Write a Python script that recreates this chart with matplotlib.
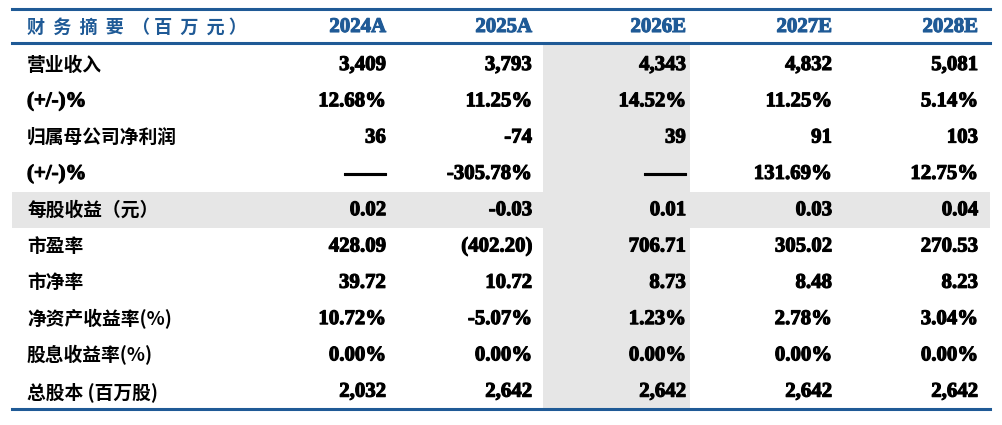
import matplotlib.pyplot as plt
import matplotlib.patheffects as pe
from matplotlib.patches import Rectangle

# table data
header_label = "财务摘要（百万元）"
years = ["2024A", "2025A", "2026E", "2027E", "2028E"]
row_labels = ["营业收入", "(+/-)%", "归属母公司净利润", "(+/-)%", "每股收益（元）",
              "市盈率", "市净率", "净资产收益率(%)", "股息收益率(%)", "总股本 (百万股)"]
values = [
    ["3,409", "3,793", "4,343", "4,832", "5,081"],
    ["12.68%", "11.25%", "14.52%", "11.25%", "5.14%"],
    ["36", "-74", "39", "91", "103"],
    ["——", "-305.78%", "——", "131.69%", "12.75%"],
    ["0.02", "-0.03", "0.01", "0.03", "0.04"],
    ["428.09", "(402.20)", "706.71", "305.02", "270.53"],
    ["39.72", "10.72", "8.73", "8.48", "8.23"],
    ["10.72%", "-5.07%", "1.23%", "2.78%", "3.04%"],
    ["0.00%", "0.00%", "0.00%", "0.00%", "0.00%"],
    ["2,032", "2,642", "2,642", "2,642", "2,642"],
]

W, H = 1003, 425
BLUE = "#1f5a96"
GREY = "#e6e6e6"
col_right = [386, 532, 686, 832, 978]
label_x = 27
header_y = 27
row_y0, row_h = 65, 36.3
shaded_row = 4

fig = plt.figure(figsize=(W / 100, H / 100), dpi=100)
ax = fig.add_axes([0, 0, 1, 1])
ax.set_xlim(0, W)
ax.set_ylim(H, 0)
ax.axis("off")

cjk = ["Noto Sans CJK SC", "DejaVu Sans"]
serif = ["Liberation Serif", "Noto Sans CJK SC"]


def bold(c):
    # thicken the serif glyphs a bit
    return [pe.withStroke(linewidth=0.8, foreground=c)]


# shading
ax.add_patch(Rectangle((543, 45), 147, 363, color=GREY, lw=0, zorder=0))
ys = row_y0 + shaded_row * row_h
ax.add_patch(Rectangle((12, ys - row_h / 2), 978, row_h, color=GREY, lw=0, zorder=0))

# rules
ax.plot([12, 990], [9, 9], color=BLUE, lw=2.2)
ax.plot([12, 990], [43, 43], color=BLUE, lw=2.2)
ax.plot([12, 990], [409, 409], color=BLUE, lw=2.2)

ax.text(label_x, header_y, "  ".join(header_label).replace("（ ", "（").replace(" ）", "）"),
        color=BLUE, fontsize=13, fontweight="bold", family=cjk, va="center", ha="left")
for x, yr in zip(col_right, years):
    ax.text(x, header_y, yr, color=BLUE, fontsize=15, fontweight="bold",
            family=serif, va="center", ha="right", path_effects=bold(BLUE))

for i, (lab, vals) in enumerate(zip(row_labels, values)):
    y = row_y0 + i * row_h
    if lab.startswith("("):
        ax.text(label_x, y, lab, fontsize=15, fontweight="bold", family=serif,
                va="center", ha="left", color="black", path_effects=bold("black"))
    else:
        ax.text(label_x, y, lab, fontsize=13.5, fontweight="bold", family=cjk,
                va="center", ha="left", color="black")
    for x, v in zip(col_right, vals):
        ax.text(x, y, v, fontsize=15, fontweight="bold", family=serif,
                va="center", ha="right", color="black", path_effects=bold("black"))

fig.savefig("out.png", dpi=100)
